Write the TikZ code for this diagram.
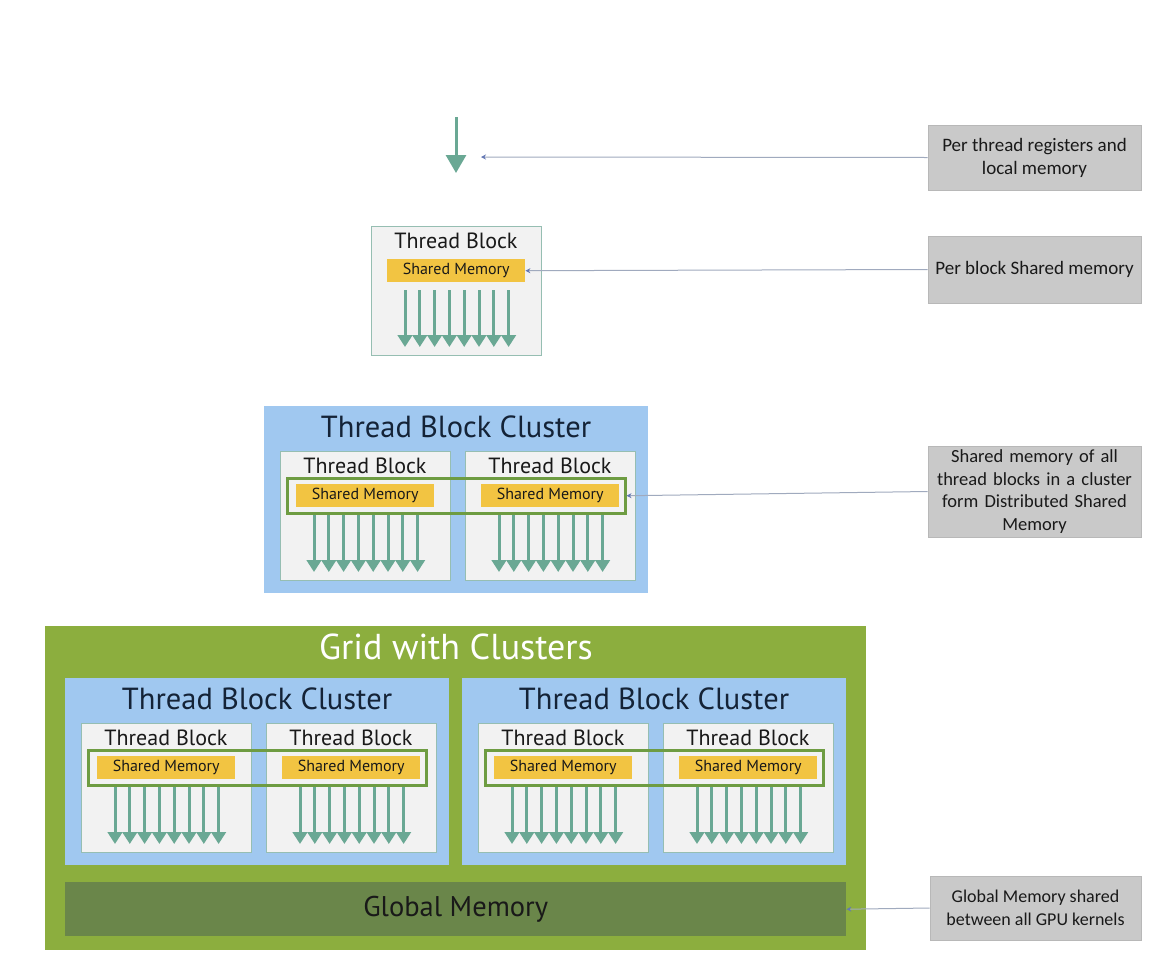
\documentclass[tikz,border=0pt]{standalone}
\usepackage{fontspec}
\setmainfont{PT Sans}
\newfontfamily\calloutfont{Carlito}
\usetikzlibrary{arrows.meta}

\definecolor{threadteal}{RGB}{106,168,148}
\definecolor{blockfill}{RGB}{242,242,242}
\definecolor{blockedge}{RGB}{150,190,178}
\definecolor{smyellow}{RGB}{242,196,66}
\definecolor{clusterblue}{RGB}{160,200,240}
\definecolor{gridgreen}{RGB}{140,174,62}
\definecolor{globalgreen}{RGB}{106,134,74}
\definecolor{dsmgreen}{RGB}{110,156,66}
\definecolor{calloutgray}{RGB}{201,201,201}
\definecolor{calloutedge}{RGB}{184,184,184}
\definecolor{leaderline}{RGB}{160,170,190}
\definecolor{leadertip}{RGB}{100,120,180}
\definecolor{darktext}{RGB}{25,25,25}
\definecolor{navytext}{RGB}{20,35,55}

\tikzset{
  thread/.style={draw=threadteal, line width=3pt,
    -{Triangle[width=14.5pt,length=12pt]}},
  bigthread/.style={draw=threadteal, line width=3pt,
    -{Triangle[width=20pt,length=18pt]}},
  tblockbox/.style={draw=blockedge, fill=blockfill, line width=1pt,
    minimum width=170pt, minimum height=129pt, inner sep=0pt},
  tbtitle/.style={text=darktext, font=\fontsize{22}{26}\selectfont, inner sep=0pt},
  shmem/.style={fill=smyellow, minimum width=138pt, minimum height=23pt,
    inner sep=0pt, text=darktext, font=\fontsize{16}{18}\selectfont},
  clusterbox/.style={fill=clusterblue, minimum width=384pt, minimum height=187pt,
    inner sep=0pt},
  clustertitle/.style={text=navytext, font=\fontsize{30.5}{34}\selectfont, inner sep=0pt},
  dsm/.style={draw=dsmgreen, line width=2.5pt, minimum width=338pt,
    minimum height=35pt, inner sep=0pt},
  callout/.style={fill=calloutgray, draw=calloutedge, line width=0.8pt,
    minimum width=213pt, inner sep=2pt, align=center, text=darktext,
    font=\calloutfont\fontsize{19}{23}\selectfont},
  leader/.style={draw=leaderline, line width=1pt,
    -{Stealth[width=5pt,length=5pt,color=leadertip]}},
}

% one thread block: name, left edge, top edge
\newcommand{\threadblock}[3]{%
  \node[tblockbox, anchor=north west] (#1) at (#2,#3) {};
  \node[tbtitle] (#1-title) at (#2+85,#3+15) {Thread Block};
  \node[shmem, anchor=north west] (#1-sm) at (#2+16,#3+33) {Shared Memory};
  \foreach \i in {0,...,7}
    \draw[thread] (#2+34+14.8*\i,#3+64) -- (#2+34+14.8*\i,#3+121);
}

% one cluster of two thread blocks: name, left edge, top edge
\newcommand{\tbcluster}[3]{%
  \node[clusterbox, anchor=north west] (#1) at (#2,#3) {};
  \node[clustertitle] (#1-title) at (#2+192,#3+21) {Thread Block Cluster};
  \threadblock{#1-a}{#2+16}{#3+45}
  \threadblock{#1-b}{#2+201}{#3+45}
  \node[dsm, anchor=north west] (#1-dsm) at (#2+22,#3+71) {};
}

\begin{document}
\begin{tikzpicture}[x=1pt,y=-1pt]
\useasboundingbox[fill=white] (0,0) rectangle (1162,956);

% single thread
\draw[bigthread] (456,117) -- (456,173);
\coordinate (threadtip) at (481,157);

% single thread block
\threadblock{tb}{371}{226}

% standalone cluster
\tbcluster{cl}{264}{406}

% grid with clusters
\node[fill=gridgreen, anchor=north west, minimum width=821pt,
  minimum height=324pt, inner sep=0pt] (grid) at (45,626) {};
\node[text=white, font=\fontsize{36}{40}\selectfont, inner sep=0pt]
  (grid-title) at (456,647) {Grid with Clusters};
\tbcluster{gl}{65}{678}
\tbcluster{gr}{462}{678}
\node[fill=globalgreen, anchor=north west, minimum width=781pt,
  minimum height=54pt, inner sep=0pt, text=darktext,
  font=\fontsize{28.5}{31}\selectfont] (global) at (65,882) {Global Memory};

% explanatory notes
\node[callout, minimum height=65pt] (c1) at (1034.5,157.5)
  {Per thread registers and\\local memory};
\node[callout, minimum height=67pt] (c2) at (1034.5,269.5)
  {Per block Shared memory};
\node[callout, minimum height=91pt, text width=206pt,
  font=\calloutfont\fontsize{18.5}{22.5}\selectfont] (c3) at (1034.5,491.5)
  {Shared memory of all\\thread blocks in a cluster\\form Distributed Shared\\Memory};
\node[callout, minimum height=64pt, minimum width=211pt,
  font=\calloutfont\fontsize{18}{23}\selectfont] (c4) at (1035.5,908)
  {Global Memory shared\\between all GPU kernels};

\draw[leader] (c1.west) -- (threadtip);
\draw[leader] (c2.west) -- (tb-sm.east);
\draw[leader] (c3.west) -- (cl-dsm.east);
\draw[leader] (c4.west) -- (global.east);
\end{tikzpicture}
\end{document}
